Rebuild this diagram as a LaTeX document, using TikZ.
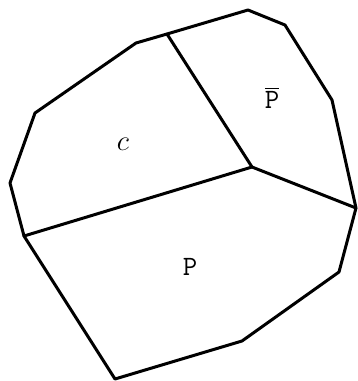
\documentclass[tikz,border=0pt]{standalone}
\usepackage{tikz}
\begin{document}
\begin{tikzpicture}[x=0.5pt, y=-0.5pt,
    edge/.style={line width=1.5pt, line join=round, line cap=round},
    regionlabel/.style={font=\fontsize{14}{16}\selectfont, inner sep=0pt}
]
\useasboundingbox (0,0) rectangle (358,381);
% outer boundary
\coordinate (top) at (248,10);
\coordinate (ne1) at (285,25);
\coordinate (ne2) at (332,100);
\coordinate (east) at (356,208);
\coordinate (se1) at (339,272);
\coordinate (se2) at (242,341);
\coordinate (bottom) at (115,379);
\coordinate (west) at (24,236);
\coordinate (w1) at (10,183);
\coordinate (nw1) at (35,113);
\coordinate (nw2) at (136,43);
\coordinate (north) at (167,34);
\coordinate (centre) at (252,167);
\draw[edge] (top) -- (ne1) -- (ne2) -- (east) -- (se1) -- (se2) -- (bottom)
    -- (west) -- (w1) -- (nw1) -- (nw2) -- (north) -- cycle;
% dividing lines
\draw[edge] (north) -- (centre);
\draw[edge] (west) -- (centre);
\draw[edge] (centre) -- (east);
% region names
\node[regionlabel] (regC) at (123,144) {$c$};
\node[regionlabel] (regPbar) at (272,98) {$\overline{\texttt{P}}$};
\node[regionlabel] (regP) at (190,267) {\texttt{P}};
\end{tikzpicture}
\end{document}
